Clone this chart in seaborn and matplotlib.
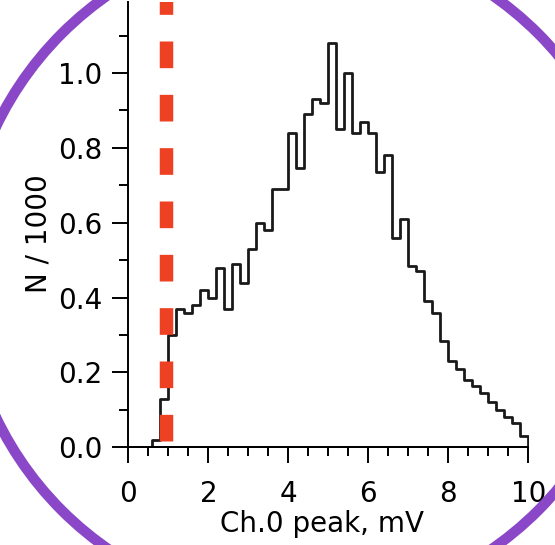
import numpy as np
import pandas as pd
import matplotlib
matplotlib.use("Agg")
import matplotlib.pyplot as plt
from matplotlib.patches import Ellipse
from matplotlib.ticker import MultipleLocator
import seaborn as sns

# Histogram of Ch.0 peak (bins of 0.2 mV, 0..10 mV), counts in thousands
bin_edges = [round(0.2 * i, 2) for i in range(51)]
counts = [0, 0, 0, 0.02, 0.13, 0.30, 0.37, 0.36, 0.38, 0.42,
          0.40, 0.48, 0.37, 0.49, 0.44, 0.53, 0.60, 0.58, 0.69, 0.69,
          0.84, 0.745, 0.89, 0.93, 0.92, 1.08, 0.85, 1.00, 0.84, 0.87,
          0.84, 0.735, 0.78, 0.56, 0.61, 0.485, 0.47, 0.39, 0.36, 0.285,
          0.23, 0.21, 0.18, 0.165, 0.145, 0.12, 0.10, 0.08, 0.065, 0.03]
threshold = 0.95
x_ticks = [0, 2, 4, 6, 8, 10]
y_ticks = [0.0, 0.2, 0.4, 0.6, 0.8, 1.0]
x_label = "Ch.0 peak, mV"
y_label = "N / 1000"

edges = np.array(bin_edges)
df = pd.DataFrame({"peak": (edges[:-1] + edges[1:]) / 2, "n": counts})

sns.set_style("white")
plt.rcParams['font.family'] = ['DejaVu Sans']
plt.rcParams['lines.scale_dashes'] = False
plt.rcParams['text.color'] = 'black'
plt.rcParams['axes.labelcolor'] = 'black'
plt.rcParams['xtick.color'] = 'black'
plt.rcParams['ytick.color'] = 'black'

fig = plt.figure(figsize=(5.55, 5.45), dpi=100)
ax = fig.add_axes([0.2312, 0.1793, 0.7209, 0.8173])

sns.histplot(data=df, x="peak", weights="n", bins=bin_edges, element="step",
             fill=True, color="#1a1a1a", facecolor=(1, 1, 1, 0),
             edgecolor="#1a1a1a", linewidth=2.0, ax=ax)

ax.plot([threshold, threshold], [0.018, 1.25], color="#ee4124",
        linewidth=9.7, dashes=(19.2, 19.2), solid_capstyle="butt",
        dash_capstyle="butt", zorder=3)

ax.set_xlim(0, 10)
ax.set_ylim(0, 1.19)
ax.set_xticks(x_ticks)
ax.set_yticks(y_ticks)
ax.set_yticklabels([f"{v:.1f}" for v in y_ticks])
ax.xaxis.set_minor_locator(MultipleLocator(0.5))
ax.yaxis.set_minor_locator(MultipleLocator(0.1))
ax.tick_params(axis="both", which="major", direction="out", length=11.5,
               width=1.4, colors="black", labelsize=20)
ax.tick_params(axis="x", which="major", pad=12)
ax.tick_params(axis="y", which="major", pad=7)
ax.tick_params(axis="both", which="minor", direction="out", length=6.5,
               width=1.4, color="black")
ax.tick_params(left=True, bottom=True, which="both")
ax.set_xlabel(x_label, fontsize=20, color="black")
ax.set_ylabel(y_label, fontsize=20, color="black")
ax.xaxis.set_label_coords(0.483, -0.14)
ax.yaxis.set_label_coords(-0.19, 0.479)
for s in ["top", "right"]:
    ax.spines[s].set_visible(False)
for s in ["left", "bottom"]:
    ax.spines[s].set_color("black")
    ax.spines[s].set_linewidth(1.4)

ring = Ellipse((300 / 555, 1 - 272 / 545), 674 / 555, 674 / 545,
               transform=fig.transFigure, fill=False, edgecolor="#8a48c8",
               linewidth=7.5, zorder=10)
fig.add_artist(ring)

fig.savefig("out.png", dpi=100)
